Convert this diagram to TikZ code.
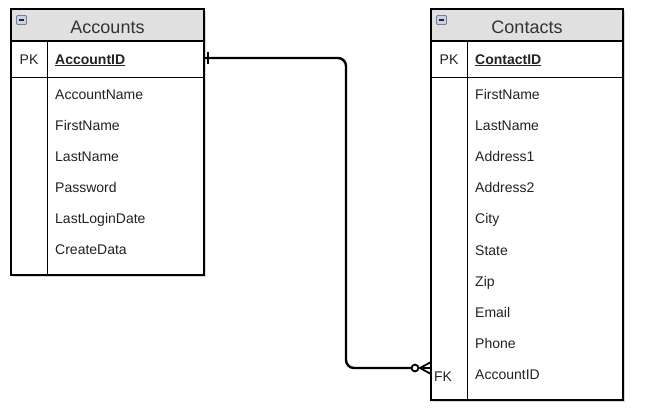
\documentclass[tikz,border=0pt]{standalone}
\usepackage{fontspec}
\setmainfont{Liberation Sans}
\usetikzlibrary{shadows,calc}
\definecolor{hdr}{HTML}{E0E0E0}
\definecolor{txt}{HTML}{222222}
\definecolor{shd}{HTML}{8890B0}
\definecolor{icb}{HTML}{6F80A0}
\definecolor{icf}{HTML}{C8D2E2}
\begin{document}
\begin{tikzpicture}[x=1pt,y=1pt,
  tbl/.style={draw=black,line width=1.2pt,fill=white,
    drop shadow={shadow xshift=2pt,shadow yshift=-2pt,opacity=0.35,fill=shd}},
  hdrbox/.style={draw=black,line width=1.2pt,fill=hdr},
  sep/.style={draw=black,line width=0.9pt},
  fld/.style={anchor=base west,inner sep=0pt,text=txt,font=\fontsize{14}{16}\selectfont},
  key/.style={anchor=base,inner sep=0pt,text=txt,font=\fontsize{14}{16}\selectfont},
  title/.style={anchor=base,inner sep=0pt,text=black!80,font=\fontsize{18}{20}\selectfont},
  rel/.style={line width=2.4pt,black,rounded corners=8pt},
  icon/.style={draw=icb,line width=0.9pt,fill=icf,rounded corners=1pt}
]
\useasboundingbox (0,0) rectangle (651,-416);

% ---------- Accounts ----------
\path[tbl] (11,-9) rectangle (204,-275);
\path[hdrbox] (11,-9) rectangle (204,-41);
\draw[line width=1.2pt] (11,-9) rectangle (204,-275);
\draw[sep] (11,-77) -- (204,-77);
\draw[sep] (47,-41) -- (47,-275);
\path[icon] (16.5,-15.5) rectangle (26.5,-24.5);
\draw[line width=1.2pt,black!85] (19,-20) -- (24,-20);
\node[title] (acctitle) at (107.5,-33.5) {Accounts};
\node[key] (accpk) at (29,-64) {PK};
\node[fld] (accid) at (55,-64) {\underline{\textbf{AccountID}}};
\node[fld] (accf1) at (55,-99) {AccountName};
\node[fld] (accf2) at (55,-130) {FirstName};
\node[fld] (accf3) at (55,-161) {LastName};
\node[fld] (accf4) at (55,-192) {Password};
\node[fld] (accf5) at (55,-223) {LastLoginDate};
\node[fld] (accf6) at (55,-254) {CreateData};

% ---------- Contacts ----------
\path[tbl] (431,-9) rectangle (623,-400);
\path[hdrbox] (431,-9) rectangle (623,-41);
\draw[line width=1.2pt] (431,-9) rectangle (623,-400);
\draw[sep] (431,-77) -- (623,-77);
\draw[sep] (467,-41) -- (467,-400);
\path[icon] (436.5,-15.5) rectangle (446.5,-24.5);
\draw[line width=1.2pt,black!85] (439,-20) -- (444,-20);
\node[title] (contitle) at (527,-33.5) {Contacts};
\node[key] (conpk) at (449,-64) {PK};
\node[fld] (conid) at (475,-64) {\underline{\textbf{ContactID}}};
\node[fld] (conf1) at (475,-99) {FirstName};
\node[fld] (conf2) at (475,-130) {LastName};
\node[fld] (conf3) at (475,-161) {Address1};
\node[fld] (conf4) at (475,-192) {Address2};
\node[fld] (conf5) at (475,-223) {City};
\node[fld] (conf6) at (475,-255) {State};
\node[fld] (conf7) at (475,-286) {Zip};
\node[fld] (conf8) at (475,-317) {Email};
\node[fld] (conf9) at (475,-348) {Phone};
\node[fld] (conf10) at (475,-379) {AccountID};
\node[key] (confk) at (443,-381) {FK};

% ---------- Relationship ----------
\coordinate (relA) at (204,-58);
\coordinate (turnA) at (346,-58);
\coordinate (turnB) at (346,-368);
\coordinate (relB) at (431,-368);
\coordinate (circ) at (415,-368);
\draw[rel] (relA) -- (turnA) -- (turnB) -- (circ);
\draw[line width=2pt] (circ) -- (relB);
% one mark
\draw[line width=2pt] (208,-52) -- (208,-64);
% crow's foot
\draw[line width=1.8pt] (420,-368) -- (431,-362);
\draw[line width=1.8pt] (420,-368) -- (431,-374);
\draw[line width=1.8pt,fill=white] (circ) circle (3.4pt);
\end{tikzpicture}
\end{document}
